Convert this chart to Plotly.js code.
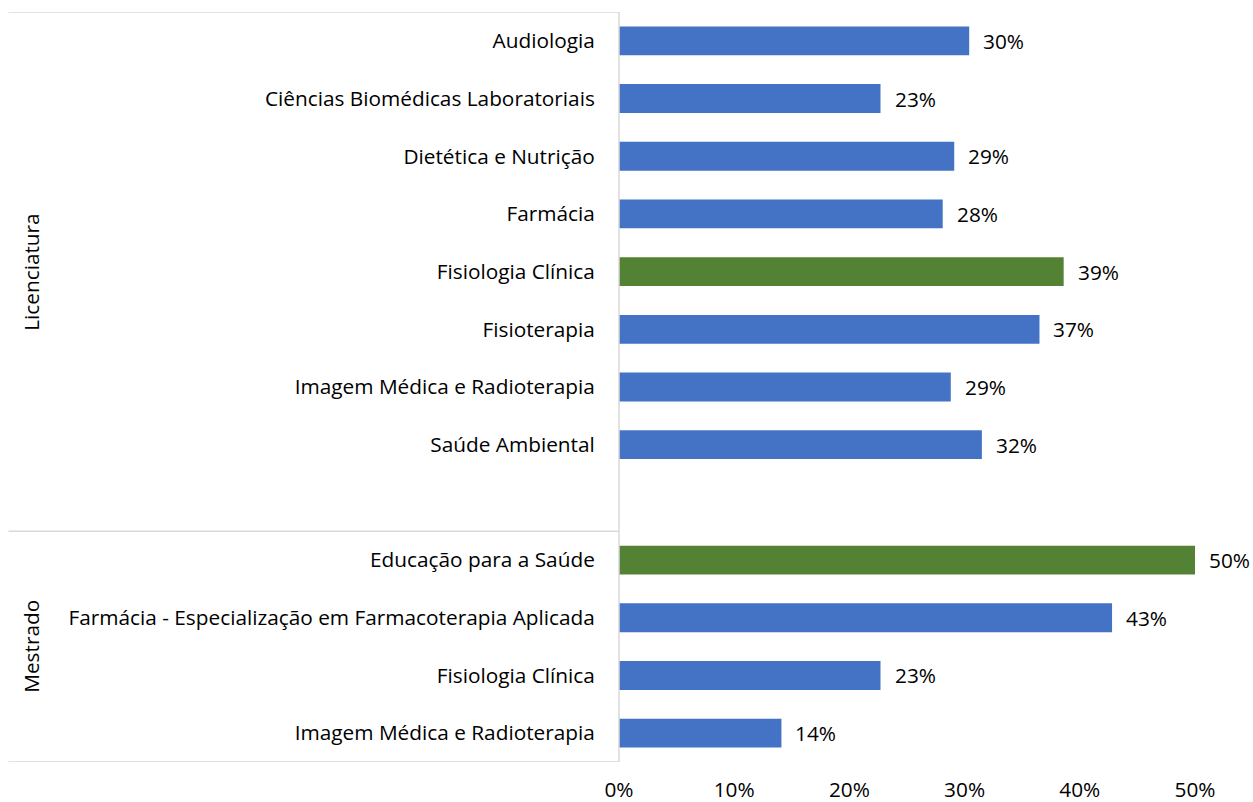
<!DOCTYPE html>
<html>
<head>
<meta charset="utf-8">
<script src="https://cdn.plot.ly/plotly-3.0.1.min.js"></script>
<style>html,body{margin:0;padding:0;background:#fff;}#chart{width:1253px;height:802px;}</style>
</head>
<body>
<div id="chart"></div>
<script>
// Data
const licenciaturaCursos = ["Audiologia", "Ciências Biomédicas Laboratoriais", "Dietética e Nutrição", "Farmácia", "Fisiologia Clínica", "Fisioterapia", "Imagem Médica e Radioterapia", "Saúde Ambiental"];
const licenciaturaValores = [0.304, 0.227, 0.291, 0.281, 0.386, 0.365, 0.288, 0.315];
const licenciaturaDestaque = [false, false, false, false, true, false, false, false];

const mestradoCursos = ["Educação para a Saúde", "Farmácia - Especialização em Farmacoterapia Aplicada", "Fisiologia Clínica", "Imagem Médica e Radioterapia"];
const mestradoValores = [0.50, 0.428, 0.227, 0.141];
const mestradoDestaque = [true, false, false, false];

const grupos = ["Licenciatura", "Mestrado"];
const xTicks = [0, 0.1, 0.2, 0.3, 0.4, 0.5];
const xTickLabels = ["0%", "10%", "20%", "30%", "40%", "50%"];

const BLUE = "#4472C4", GREEN = "#548235", LINE = "#d9d9d9";
const FONT = "'Open Sans', sans-serif";
const FS = 20.8;

// Build category keys (unique) with an empty slot between groups
const keys = [], labels = [], vals = [], cols = [];
licenciaturaCursos.forEach((c, i) => {
  keys.push("L|" + c); labels.push(c); vals.push(licenciaturaValores[i]);
  cols.push(licenciaturaDestaque[i] ? GREEN : BLUE);
});
const gapKey = "gap";
mestradoCursos.forEach((c, i) => {
  keys.push("M|" + c); labels.push(c); vals.push(mestradoValores[i]);
  cols.push(mestradoDestaque[i] ? GREEN : BLUE);
});
const catOrder = keys.slice(0, licenciaturaCursos.length).concat([gapKey]).concat(keys.slice(licenciaturaCursos.length));
const catText = labels.slice(0, licenciaturaCursos.length).concat([""]).concat(labels.slice(licenciaturaCursos.length));

const nL = licenciaturaCursos.length;
const nTot = catOrder.length;

const trace = {
  type: "bar", orientation: "h",
  x: vals, y: keys,
  width: 0.5,
  marker: {color: cols},
  hoverinfo: "x+y"
};

const annotations = vals.map((v, i) => ({
  x: v, y: keys[i], xref: "x", yref: "y",
  text: Math.round(v * 100) + "%",
  showarrow: false, xanchor: "left", xshift: 12,
  font: {family: FONT, size: FS, color: "#000"}
}));

// group labels
const groupCenters = [(-0.5 + nL + 0.5) / 2, (nL + 0.5 + nTot - 0.5) / 2];
grupos.forEach((g, i) => {
  annotations.push({
    x: -1.05, y: groupCenters[i], xref: "paper", yref: "y",
    text: g, showarrow: false, textangle: -90,
    font: {family: FONT, size: FS, color: "#000"}
  });
});

const lineYs = [-0.5, nL + 0.5, nTot - 0.5];
const shapes = lineYs.map(yv => ({
  type: "line", xref: "paper", yref: "y",
  x0: -1.06, x1: 0, y0: yv, y1: yv,
  line: {color: LINE, width: 1.5}
}));
shapes.push({type: "line", xref: "paper", yref: "y", x0: 0, x1: 0, y0: -0.5, y1: nTot - 0.5, line: {color: LINE, width: 1.5}});

const layout = {
  width: 1253, height: 802,
  margin: {l: 619, r: 58, t: 12, b: 40},
  paper_bgcolor: "#fff", plot_bgcolor: "#fff",
  showlegend: false,
  bargap: 0.5,
  xaxis: {
    range: [0, 0.5], tickvals: xTicks, ticktext: xTickLabels,
    showgrid: false, zeroline: false, showline: false,
    ticks: "outside", ticklen: 0, ticklabelstandoff: 9,
    tickfont: {family: FONT, size: FS, color: "#000"},
    fixedrange: true
  },
  yaxis: {
    type: "category", categoryorder: "array", categoryarray: catOrder,
    tickvals: catOrder, ticktext: catText,
    range: [nTot - 0.5, -0.5],
    showgrid: false, zeroline: false, showline: false,
    ticks: "outside", ticklen: 0, ticklabelstandoff: 19,
    tickfont: {family: FONT, size: FS, color: "#000"},
    fixedrange: true
  },
  annotations: annotations,
  shapes: shapes,
  font: {family: FONT, size: FS, color: "#000"}
};

Plotly.newPlot("chart", [trace], layout, {displayModeBar: false, staticPlot: true});
</script>
</body>
</html>
